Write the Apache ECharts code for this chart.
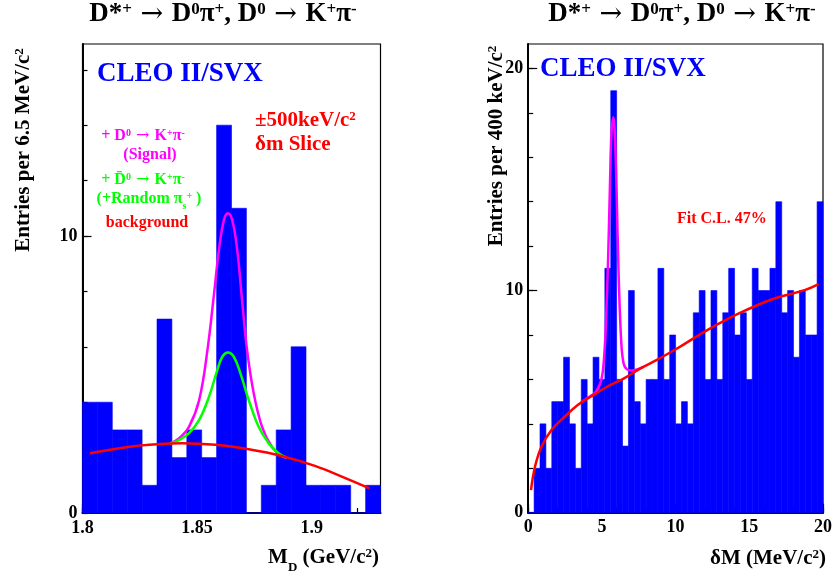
<!DOCTYPE html>
<html><head><meta charset="utf-8">
<script src="https://cdn.jsdelivr.net/npm/echarts@6/dist/echarts.min.js"></script>
<style>html,body{margin:0;padding:0;background:#fff}#c{width:835px;height:577px}</style>
</head><body><div id="c"></div>
<script>
// ---------- Left panel: M_D (GeV/c^2), bins of 6.5 MeV/c^2 ----------
const mdBinStart = 1.8;
const mdBinWidth = 0.0065;
const mdCounts = [4,4,3,3,1,7,2,3,2,14,11,0,1,3,6,1,1,1,0,1];
const mdBackground = [[1.8032,2.16],[1.8206,2.39],[1.8292,2.46],[1.8436,2.52],[1.8581,2.46],[1.8725,2.30],[1.8869,2.06],[1.9014,1.70],[1.9144,1.27],[1.9252,0.89]];
const mdWrongSign = [[1.838,2.50],[1.8422,2.64],[1.8465,2.88],[1.8509,3.36],[1.8552,4.20],[1.8588,5.16],[1.8610,5.64],[1.8634,5.79],[1.8660,5.64],[1.8689,5.04],[1.8725,4.08],[1.8768,3.12],[1.8812,2.52],[1.8855,2.16],[1.889,2.00]];
const mdSignal = [[1.838,2.50],[1.8422,2.70],[1.8465,3.12],[1.8509,4.08],[1.8545,5.88],[1.8574,7.93],[1.8595,9.49],[1.8617,10.58],[1.8634,10.82],[1.8653,10.58],[1.8675,9.49],[1.8696,7.69],[1.8718,5.88],[1.8747,4.32],[1.8783,3.12],[1.8826,2.39],[1.8869,2.06],[1.889,2.00]];
const mdXTicks = [1.8,1.81,1.82,1.83,1.84,1.85,1.86,1.87,1.88,1.89,1.9,1.91,1.92];
const mdXMajor = [1.8,1.85,1.9];
const mdYTicks = [0,2,4,6,8,10,12,14,16];
const mdYLabels = [0,10];
const mdYMajor = [10];

// ---------- Right panel: deltaM (MeV/c^2), bins of 400 keV/c^2 ----------
const dmBinStart = 0;
const dmBinWidth = 0.4;
const dmCounts = [0,2,4,2,5,5,7,4,2,6,4,7,6,11,19,6,3,10,5,4,6,6,11,6,8,4,5,4,9,10,6,10,6,9,11,8,9,6,11,10,10,11,14,9,10,7,10,8,8,14];
const dmFit = [[0.19,1.02],[0.46,2.07],[0.9,2.97],[1.58,3.72],[2.47,4.32],[3.36,4.85],[4.26,5.23],[5.38,5.68],[6.5,6.05],[7.62,6.5],[8.73,6.88],[10.07,7.38],[12.09,8.2],[14.33,8.98],[16.56,9.61],[18.8,10.03],[19.7,10.29]];
const dmSignal = [[3.6,4.98],[4.2,5.24],[4.6,5.45],[4.9,5.85],[5.05,6.3],[5.2,7.5],[5.3,9.0],[5.42,11.4],[5.56,15.1],[5.65,17.1],[5.78,17.8],[5.87,17.2],[6.0,14.4],[6.14,10.6],[6.32,7.6],[6.48,6.7],[6.7,6.45],[7.0,6.4],[7.4,6.45],[7.8,6.56]];
const dmXTicks = [0,1,2,3,4,5,6,7,8,9,10,11,12,13,14,15,16,17,18,19,20];
const dmXMajor = [0,5,10,15,20];
const dmYTicks = [0,2,4,6,8,10,12,14,16,18,20];
const dmYLabels = [0,10,20];
const dmYMajor = [10,20];

const FONT = '"Liberation Serif","Times New Roman",serif';

function histData(start, width, counts) {
  return counts.map((c, i) => [start + i * width, start + (i + 1) * width, c]);
}
function renderBin(params, api) {
  const p0 = api.coord([api.value(0), 0]);
  const p1 = api.coord([api.value(1), api.value(2)]);
  return { type: 'rect',
    shape: { x: p0[0], y: p1[1], width: p1[0] - p0[0], height: p0[1] - p1[1] },
    style: { fill: '#0000ff', stroke: '#0000ff', lineWidth: 0.6 } };
}

function rich(size, color) {
  const s = Math.round(size * 0.62);
  return {
    n: { fontSize: size, fontWeight: 'bold', fontFamily: FONT, fill: color, verticalAlign: 'top', lineHeight: Math.round(size * 1.1) },
    a: { fontSize: size, fontWeight: 'normal', fontFamily: '"DejaVu Serif",serif', fill: color, verticalAlign: 'top', lineHeight: Math.round(size * 1.1) },
    p: { fontSize: s, fontWeight: 'bold', fontFamily: FONT, fill: color, verticalAlign: 'top', lineHeight: s },
    b: { fontSize: s, fontWeight: 'bold', fontFamily: FONT, fill: color, verticalAlign: 'bottom', lineHeight: Math.round(size * 1.28) }
  };
}
function txt(x, y, text, size, color, align, rotation) {
  return { type: 'text', x: x, y: y, rotation: rotation || 0, z: 100,
    style: { text: text, rich: rich(size, color), fill: color, align: align || 'center', verticalAlign: 'middle',
      font: 'bold ' + size + 'px ' + FONT } };
}

function xAxisDef(grid, min, max, ticks, labels, show) {
  return { type: 'value', gridIndex: grid, min: min, max: max, position: 'bottom',
    axisLine: { show: show, onZero: false, lineStyle: { color: '#000', width: 2 } },
    axisTick: { show: true, inside: true, length: 5, customValues: ticks, lineStyle: { color: '#000', width: 1.2 } },
    axisLabel: { show: show, customValues: labels, margin: 6, color: '#000', fontFamily: FONT, fontWeight: 'bold', fontSize: 18, formatter: v => String(v) },
    splitLine: { show: false } };
}
function yAxisDef(grid, min, max, ticks, labels, show) {
  return { type: 'value', gridIndex: grid, min: min, max: max, position: 'left',
    axisLine: { show: show, onZero: false, lineStyle: { color: '#000', width: 2 } },
    axisTick: { show: true, inside: true, length: 5, customValues: ticks, lineStyle: { color: '#000', width: 1.2 } },
    axisLabel: { show: show, customValues: labels, margin: 5, color: '#000', fontFamily: FONT, fontWeight: 'bold', fontSize: 18, formatter: v => String(v) },
    splitLine: { show: false } };
}
function majorX(grid, min, max, ticks) {
  const a = xAxisDef(grid, min, max, ticks, [], false);
  a.axisTick.length = 9; return a;
}
function majorY(grid, min, max, ticks) {
  const a = yAxisDef(grid, min, max, ticks, [], false);
  a.axisTick.length = 9; return a;
}

const mdXMin = 1.8, mdXMax = 1.93, mdYMax = 16.93;
const dmXMin = 0, dmXMax = 20, dmYMax = 21.1;

const chart = echarts.init(document.getElementById('c'), null, { renderer: 'canvas' });
const title = '{n|D*}{p|+}{a| → }{n|D}{p|0}{n|π}{p|+}{n|, D}{p|0}{a| → }{n|K}{p|+}{n|π}{p|-}';
const GREEN = '#00ff00';
chart.setOption({
  animation: false,
  backgroundColor: '#fff',
  grid: [
    { left: 82.5, top: 44, width: 298, height: 469, show: true, borderColor: '#000', borderWidth: 1.2, backgroundColor: 'transparent' },
    { left: 528.2, top: 44, width: 298, height: 468.7, show: true, borderColor: '#000', borderWidth: 1.2, backgroundColor: 'transparent' }
  ],
  xAxis: [
    xAxisDef(0, mdXMin, mdXMax, mdXTicks, mdXMajor, true),
    majorX(0, mdXMin, mdXMax, mdXMajor),
    xAxisDef(1, dmXMin, dmXMax, dmXTicks, dmXMajor, true),
    majorX(1, dmXMin, dmXMax, dmXMajor)
  ],
  yAxis: [
    yAxisDef(0, 0, mdYMax, mdYTicks, mdYLabels, true),
    majorY(0, 0, mdYMax, mdYMajor),
    yAxisDef(1, 0, dmYMax, dmYTicks, dmYLabels, true),
    majorY(1, 0, dmYMax, dmYMajor)
  ],
  series: [
    { type: 'custom', xAxisIndex: 0, yAxisIndex: 0, renderItem: renderBin, data: histData(mdBinStart, mdBinWidth, mdCounts), z: 2 },
    { type: 'line', xAxisIndex: 0, yAxisIndex: 0, data: mdSignal, smooth: 0.4, showSymbol: false, lineStyle: { color: '#ff00ff', width: 2.5 }, z: 3 },
    { type: 'line', xAxisIndex: 0, yAxisIndex: 0, data: mdWrongSign, smooth: 0.4, showSymbol: false, lineStyle: { color: GREEN, width: 2.5 }, z: 4 },
    { type: 'line', xAxisIndex: 0, yAxisIndex: 0, data: mdBackground, smooth: 0.4, showSymbol: false, lineStyle: { color: '#ff0000', width: 2.5 }, z: 5 },
    { type: 'custom', xAxisIndex: 2, yAxisIndex: 2, renderItem: renderBin, data: histData(dmBinStart, dmBinWidth, dmCounts), z: 2 },
    { type: 'line', xAxisIndex: 2, yAxisIndex: 2, data: dmSignal, smooth: 0.4, showSymbol: false, lineStyle: { color: '#ff00ff', width: 2.5 }, z: 3 },
    { type: 'line', xAxisIndex: 2, yAxisIndex: 2, data: dmFit, smooth: 0.4, showSymbol: false, lineStyle: { color: '#ff0000', width: 2.5 }, z: 4 }
  ],
  graphic: [
    txt(223, 16, title, 27, '#000'),
    txt(682, 16, title, 27, '#000'),
    txt(97, 76, '{n|CLEO II/SVX}', 27, '#0000ff', 'left'),
    txt(540, 71, '{n|CLEO II/SVX}', 27, '#0000ff', 'left'),
    txt(255, 122, '{n|±500keV/c}{p|2}', 21, '#ff0000', 'left'),
    txt(255, 146, '{n|δm Slice}', 21, '#ff0000', 'left'),
    txt(143, 137, '{n|+ D}{p|0}{a| → }{n|K}{p|+}{n|π}{p|-}', 16, '#ff00ff'),
    txt(150, 156, '{n|(Signal)}', 16, '#ff00ff'),
    txt(143, 181, '{n|+ D\u0304}{p|0}{a| → }{n|K}{p|+}{n|π}{p|-}', 16, GREEN),
    txt(149, 201, '{n|(+Random π}{b|s}{p|+}{n| )}', 16, GREEN),
    txt(147, 224, '{n|background}', 16, '#ff0000'),
    txt(677, 220, '{n|Fit C.L. 47%}', 16, '#ff0000', 'left'),
    txt(379, 561, '{n|M}{b|D}{n| (GeV/c}{p|2}{n|)}', 21, '#000', 'right'),
    txt(826, 560, '{n|δM (MeV/c}{p|2}{n|)}', 21, '#000', 'right'),
    txt(25, 150, '{n|Entries per 6.5 MeV/c}{p|2}', 21, '#000', 'center', Math.PI / 2),
    txt(498, 146, '{n|Entries per 400 keV/c}{p|2}', 21, '#000', 'center', Math.PI / 2)
  ]
});
</script></body></html>
